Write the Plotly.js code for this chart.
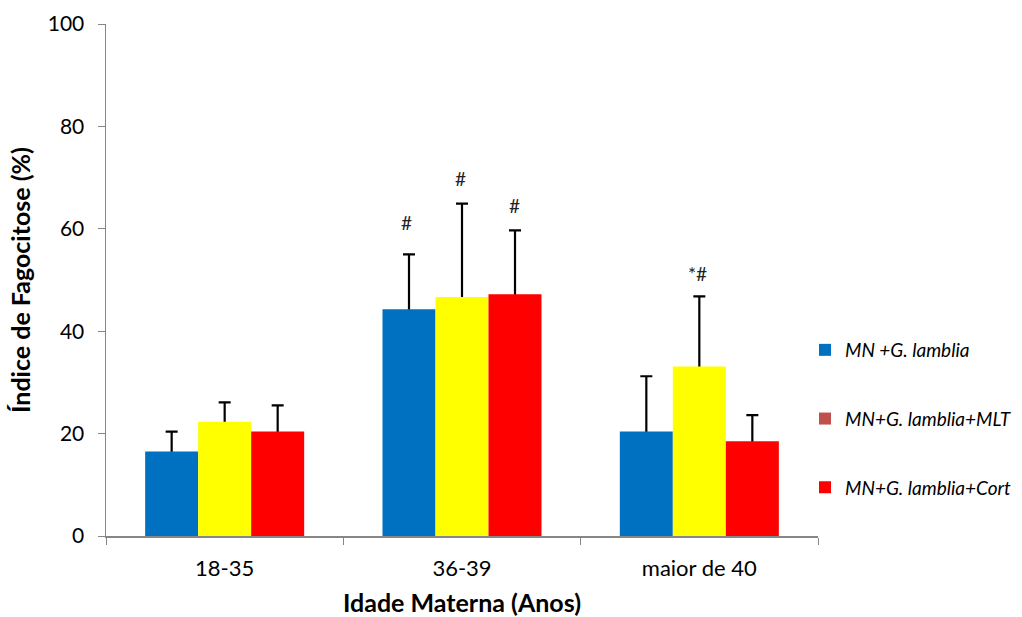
<!DOCTYPE html>
<html><head><meta charset="utf-8">
<script src="https://cdn.plot.ly/plotly-3.0.1.min.js"></script>
<style>html,body{margin:0;padding:0;background:#fff}#chart{width:1022px;height:617px}</style>
</head><body><div id="chart"></div>
<script>
const categories = ["18-35", "36-39", "maior de 40"];
const seriesNames = ["MN +G. lamblia", "MN+G. lamblia+MLT", "MN+G. lamblia+Cort"];
const barColors = ["#0070C0", "#FFFF00", "#FF0000"];
const legendColors = ["#0070C0", "#C0504D", "#FF0000"];
const valuesMN = [16.5, 44.3, 20.4];
const valuesMLT = [22.3, 46.7, 33.1];
const valuesCort = [20.4, 47.2, 18.5];
const errMN = [3.9, 10.7, 10.8];
const errMLT = [3.8, 18.2, 13.7];
const errCort = [5.1, 12.5, 5.1];
const marks = [
  {cat: "36-39", series: 0, y: 61.2, text: "#"},
  {cat: "36-39", series: 1, y: 69.9, text: "#"},
  {cat: "36-39", series: 2, y: 64.6, text: "#"},
  {cat: "maior de 40", series: 1, y: 51.2, text: "*#"}
];

const FONT = "Lato, 'Open Sans', sans-serif";
const allVals = [valuesMN, valuesMLT, valuesCort];
const allErr = [errMN, errMLT, errCort];
const traces = [];
// error bars (lower half hidden under the opaque bars drawn on the overlay axes)
allVals.forEach((v, i) => {
  traces.push({
    type: "bar", x: categories, y: v, name: seriesNames[i], showlegend: false,
    marker: {color: "rgba(0,0,0,0)", line: {width: 0}},
    error_y: {type: "data", array: allErr[i], symmetric: true,
              color: "#000000", thickness: 2.2, width: 6},
    hoverinfo: "skip"
  });
});
// visible bars
allVals.forEach((v, i) => {
  traces.push({
    type: "bar", x: categories, y: v, name: seriesNames[i], showlegend: false,
    xaxis: "x2", yaxis: "y2",
    marker: {color: barColors[i], line: {width: 0}},
    hoverinfo: "skip"
  });
});
seriesNames.forEach((n, i) => {
  traces.push({
    type: "scatter", mode: "markers", x: [null], y: [null], name: n,
    legendgroup: "g" + i,
    marker: {symbol: "square", size: 12, color: legendColors[i]}
  });
});

const shift = [-54, 0, 54];
const annotations = marks.map(m => ({
  x: m.cat, y: m.y, xref: "x", yref: "y", text: m.text, showarrow: false,
  xshift: shift[m.series] - 2, font: {family: FONT, size: 19, color: "#222"}
}));

const layout = {
  width: 1022, height: 617,
  margin: {l: 106, r: 204, t: 24, b: 81, autoexpand: false},
  paper_bgcolor: "#fff", plot_bgcolor: "#fff",
  barmode: "group", bargap: 0.33, bargroupgap: 0,
  font: {family: FONT, color: "#000"},
  xaxis: {
    type: "category", tickson: "boundaries", ticks: "outside", ticklen: 7, tickcolor: "#868686",
    showline: true, linecolor: "#868686", linewidth: 1.5, showgrid: false, zeroline: false,
    ticklabelstandoff: 12,
    tickfont: {family: FONT, size: 22, color: "#000"},
    title: {text: "<b>Idade Materna (Anos)</b>", font: {family: FONT, size: 25, color: "#000"}, standoff: 16}
  },
  yaxis: {
    range: [0, 100], dtick: 20, ticks: "outside", ticklen: 7, tickcolor: "#868686",
    showline: true, linecolor: "#868686", linewidth: 1.5, showgrid: false, zeroline: false,
    ticklabelstandoff: 9,
    tickfont: {family: FONT, size: 21, color: "#000"},
    title: {text: "<b>Índice de Fagocitose (%)</b>", font: {family: FONT, size: 25, color: "#000"}, standoff: 10}
  },
  xaxis2: {type: "category", overlaying: "x", matches: "x", visible: false, showgrid: false, zeroline: false},
  yaxis2: {overlaying: "y", range: [0, 100], visible: false, showgrid: false, zeroline: false},
  legend: {
    xref: "container", yref: "container", x: 805 / 1022, y: 1 - 331 / 617,
    xanchor: "left", yanchor: "top", tracegroupgap: 41,
    font: {family: FONT, size: 19, color: "#000", style: "italic"},
    bgcolor: "rgba(0,0,0,0)"
  },
  annotations: annotations
};
Plotly.newPlot("chart", traces, layout, {displayModeBar: false, staticPlot: true});
</script></body></html>
